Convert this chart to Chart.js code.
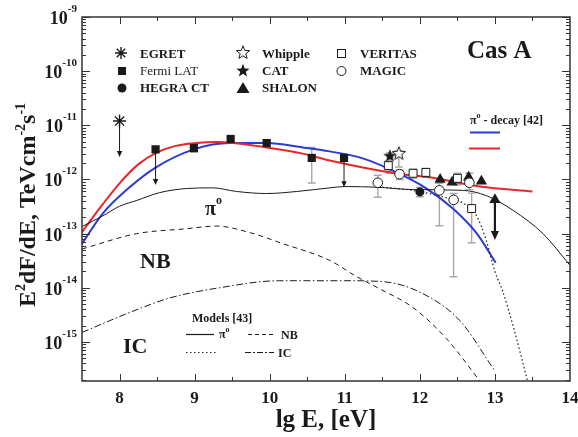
<!DOCTYPE html>
<html><head><meta charset="utf-8">
<script src="https://cdn.jsdelivr.net/npm/chart.js@4/dist/chart.umd.min.js"></script>
<style>html,body{margin:0;padding:0;background:#fff}canvas{display:block}</style>
</head><body>
<canvas id="c" width="578" height="437" style="width:578px;height:437px"></canvas>
<script>
// ---------- data (lg E [eV], E^2 dF/dE [TeV cm^-2 s^-1]) ----------
const xTicks = [8, 9, 10, 11, 12, 13, 14];
const yDecades = [-9, -10, -11, -12, -13, -14, -15];

const egretE = [8.0], egretF = [1.2e-11], egretUL = [2.6e-12];
const fermiE = [8.48, 8.99, 9.48, 9.96, 10.56, 10.99];
const fermiF = [3.6e-12, 3.8e-12, 5.6e-12, 4.7e-12, 2.5e-12, 2.5e-12];
const fermiLo = [null, 3.2e-12, null, 4.1e-12, 8.6e-13, null];
const fermiHi = [null, 4.4e-12, null, 5.4e-12, 3.9e-12, null];
const fermiUL = [7.9e-13, null, null, null, null, 7.2e-13];
const hegraE = [12.0], hegraF = [5.9e-13], hegraLo = [4.8e-13], hegraHi = [7.2e-13];
const whippleE = [11.72], whippleF = [3.1e-12], whippleLo = [1.7e-12], whippleHi = [3.4e-12];
const catE = [11.6], catF = [2.8e-12], catLo = [1.3e-12], catHi = [3.1e-12];
const shalonE = [12.27, 12.43, 12.65, 12.82, 13.0];
const shalonF = [1.0e-12, 8.9e-13, 1.1e-12, 9.3e-13, 4.2e-13];
const shalonUL = [null, null, null, null, 7.6e-14];
const veritasE = [11.58, 11.91, 12.08, 12.5, 12.69];
const veritasF = [1.8e-12, 1.3e-12, 1.35e-12, 1.05e-12, 2.9e-13];
const veritasLo = [1.4e-12, 1.05e-12, 1.1e-12, 8.0e-13, 6.8e-14];
const veritasHi = [2.2e-12, 1.55e-12, 1.6e-12, 1.3e-12, 5.6e-13];
const magicE = [11.44, 11.73, 12.26, 12.45, 12.66];
const magicF = [8.7e-13, 1.25e-12, 6.3e-13, 4.2e-13, 8.7e-13];
const magicLo = [4.7e-13, 1.0e-12, 1.4e-13, 1.6e-14, 6.5e-13];
const magicHi = [1.2e-12, 1.5e-12, 8.5e-13, 5.5e-13, 1.3e-12];

// model curves
const blueE = [7.5, 7.77, 8.13, 8.48, 8.99, 9.47, 9.96, 10.44, 10.8, 11.24, 11.69, 12.09, 12.44, 12.76, 13.01];
const blueF = [6.5e-14, 2.3e-13, 7.1e-13, 1.66e-12, 3.6e-12, 4.7e-12, 4.7e-12, 3.9e-12, 3.3e-12, 2.45e-12, 1.35e-12, 6.8e-13, 2.9e-13, 1.0e-13, 2.9e-14];
const redE = [7.5, 7.77, 8.0, 8.25, 8.5, 8.75, 9.0, 9.3, 9.96, 10.44, 10.8, 11.69, 12.13, 12.8, 13.5];
const redF = [1.07e-13, 3.39e-13, 8.5e-13, 1.9e-12, 3.16e-12, 4.17e-12, 4.68e-12, 4.9e-12, 3.9e-12, 3.0e-12, 2.24e-12, 1.29e-12, 1.1e-12, 7.4e-13, 6.0e-13];
const pi0E = [7.5, 7.77, 8.0, 8.23, 8.53, 8.89, 9.24, 9.56, 9.96, 10.36, 10.8, 11.0, 11.42, 11.91, 12.57, 12.89, 13.24, 13.64, 14.0];
const pi0F = [1.35e-13, 2.1e-13, 3.2e-13, 4.1e-13, 5.7e-13, 6.8e-13, 7.0e-13, 6.0e-13, 5.5e-13, 6.0e-13, 7.0e-13, 7.4e-13, 7.2e-13, 6.5e-13, 6.3e-13, 5.0e-13, 2.7e-13, 1.0e-13, 2.6e-14];
const dotE = [11.5, 11.9, 12.3, 12.6, 12.75, 12.88, 13.0, 13.1, 13.25, 13.43];
const dotF = [7.2e-13, 6.3e-13, 4.8e-13, 3.5e-13, 2.2e-13, 7.9e-14, 2.0e-14, 8.9e-15, 1.8e-15, 2.0e-16];
const nbE = [7.5, 8.23, 8.89, 9.29, 9.73, 10.18, 10.8, 11.16, 11.47, 11.91, 12.35, 12.8];
const nbF = [5.2e-14, 1.0e-13, 1.23e-13, 1.38e-13, 1.05e-13, 6.5e-14, 3.2e-14, 1.6e-14, 9.5e-15, 4.3e-15, 1.17e-15, 1.9e-16];
const icE = [7.5, 8.18, 8.67, 9.33, 10.13, 11.0, 11.5, 12.0, 12.53, 13.0];
const icF = [1.5e-15, 3.7e-15, 6.5e-15, 1.0e-14, 1.35e-14, 1.35e-14, 1.3e-14, 8.3e-15, 2.5e-15, 2.9e-16];

// ---------- helpers ----------
const SERIF = '"Liberation Serif", "Times New Roman", serif';
const INK = '#1a1a1a';
const pts = (E, F) => E.map((e, i) => ({ x: e, y: F[i] }));

function starPath(g, cx, cy, R) {
  g.beginPath();
  for (let i = 0; i < 10; i++) {
    const r = i % 2 ? R * 0.42 : R;
    const a = -Math.PI / 2 + i * Math.PI / 5;
    g.lineTo(cx + r * Math.cos(a), cy + r * Math.sin(a));
  }
  g.closePath();
}
function makeStar(R, filled) {
  const c = document.createElement('canvas');
  const s = Math.ceil(R * 2 + 4);
  c.width = c.height = s;
  const g = c.getContext('2d');
  starPath(g, s / 2, s / 2 + 0.8, R);
  if (filled) { g.fillStyle = INK; g.fill(); }
  else { g.fillStyle = '#fff'; g.fill(); g.lineWidth = 1; g.strokeStyle = INK; g.stroke(); }
  return c;
}
const starFilled = makeStar(7, true);
const starOpen = makeStar(7, false);

function runs(ctx, parts, x, y, align) {
  const w = parts.map(p => { ctx.font = `${p[3] || 'bold'} ${p[1]}px ${SERIF}`; return ctx.measureText(p[0]).width; });
  const total = w.reduce((a, b) => a + b, 0);
  let cx = align === 'right' ? x - total : align === 'center' ? x - total / 2 : x;
  ctx.textAlign = 'left'; ctx.textBaseline = 'alphabetic';
  parts.forEach((p, i) => { ctx.font = `${p[3] || 'bold'} ${p[1]}px ${SERIF}`; ctx.fillText(p[0], cx, y - (p[2] || 0)); cx += w[i]; });
}

const errSets = [
  [fermiE, fermiF, fermiLo, fermiHi], [hegraE, hegraF, hegraLo, hegraHi],
  [whippleE, whippleF, whippleLo, whippleHi], [catE, catF, catLo, catHi],
  [veritasE, veritasF, veritasLo, veritasHi], [magicE, magicF, magicLo, magicHi]
];
const ulSets = [[egretE, egretF, egretUL, 1, 6], [fermiE, fermiF, fermiUL, 1, 6], [shalonE, shalonF, shalonUL, 2.2, 9]];

const deco = {
  id: 'deco',
  beforeDatasetsDraw(chart) {
    const { ctx, scales: { x, y } } = chart;
    ctx.save();
    ctx.strokeStyle = '#a8a8a8'; ctx.lineWidth = 1.4;
    errSets.forEach(([E, F, lo, hi]) => {
      E.forEach((e, i) => {
        if (lo[i] == null) return;
        const px = x.getPixelForValue(e), y1 = y.getPixelForValue(lo[i]), y2 = y.getPixelForValue(hi[i]);
        ctx.beginPath();
        ctx.moveTo(px, y1); ctx.lineTo(px, y2);
        ctx.moveTo(px - 4, y1); ctx.lineTo(px + 4, y1);
        ctx.moveTo(px - 4, y2); ctx.lineTo(px + 4, y2);
        ctx.stroke();
      });
    });
    ctx.restore();
  },
  afterDatasetsDraw(chart) {
    const { ctx, scales: { x, y } } = chart;
    ctx.save();
    ctx.strokeStyle = INK; ctx.fillStyle = INK;
    ulSets.forEach(([E, F, UL, lw, head]) => {
      E.forEach((e, i) => {
        if (UL[i] == null) return;
        const px = x.getPixelForValue(e), y1 = y.getPixelForValue(F[i]), y2 = y.getPixelForValue(UL[i]);
        ctx.lineWidth = lw;
        ctx.beginPath(); ctx.moveTo(px, y1); ctx.lineTo(px, y2 - head * 0.6); ctx.stroke();
        ctx.beginPath();
        ctx.moveTo(px - head * 0.45, y2 - head); ctx.lineTo(px + head * 0.45, y2 - head); ctx.lineTo(px, y2);
        ctx.closePath(); ctx.fill();
      });
    });
    ctx.restore();
  },
  afterDraw(chart) {
    const { ctx, chartArea: { left, right, top, bottom }, scales: { x, y } } = chart;
    ctx.save();
    // frame
    ctx.strokeStyle = '#333'; ctx.lineWidth = 1.5;
    ctx.strokeRect(left, top, right - left, bottom - top);
    ctx.lineWidth = 1;
    ctx.beginPath();
    // x ticks
    for (let v = 7.5; v <= 14.001; v += 0.5) {
      const px = Math.round(x.getPixelForValue(v)) + 0.5;
      const len = Number.isInteger(v) ? 7 : 4;
      if (v <= 7.5 || v >= 14) continue;
      ctx.moveTo(px, bottom); ctx.lineTo(px, bottom - len);
      ctx.moveTo(px, top); ctx.lineTo(px, top + len);
    }
    // y ticks
    for (let d = -16; d <= -9; d++) {
      for (let m = 1; m <= 9; m++) {
        const v = m * Math.pow(10, d);
        if (v < y.min * 0.999 || v > y.max * 1.001) continue;
        const py = Math.round(y.getPixelForValue(v)) + 0.5;
        const len = m === 1 ? 8 : 4;
        ctx.moveTo(left, py); ctx.lineTo(left + len, py);
        ctx.moveTo(right, py); ctx.lineTo(right - len, py);
      }
    }
    ctx.stroke();

    ctx.fillStyle = INK;
    // x tick labels
    ctx.font = `bold 17px ${SERIF}`; ctx.textAlign = 'center'; ctx.textBaseline = 'alphabetic';
    xTicks.forEach(t => ctx.fillText(String(t), x.getPixelForValue(t), 403));
    // y tick labels
    yDecades.forEach(d => {
      const py = y.getPixelForValue(Math.pow(10, d));
      runs(ctx, [['10', 18, 0], [String(d), 11, 12]], 77, py + 7, 'right');
    });
    // axis titles
    runs(ctx, [['lg E, [eV]', 25, 0]], 326, 427, 'center');
    ctx.save();
    ctx.translate(35, 205); ctx.rotate(-Math.PI / 2);
    runs(ctx, [['E', 24, 0], ['2', 14, 10], ['dF/dE, TeVcm', 24, 0], ['-2', 14, 10], ['s', 24, 0], ['-1', 14, 10]], 0, 0, 'center');
    ctx.restore();

    // annotations
    runs(ctx, [['Cas A', 25, 0]], 467, 58, 'left');
    runs(ctx, [['π', 20, 0], ['o', 12, 11]], 205, 215, 'left');
    runs(ctx, [['NB', 22, 0]], 140, 268, 'left');
    runs(ctx, [['IC', 22, 0]], 123, 353, 'left');

    // pi0-decay [42] legend
    runs(ctx, [['π', 12, 0], ['o', 8, 6], [' - decay [42]', 12, 0]], 470, 124, 'left');
    ctx.lineWidth = 2;
    ctx.strokeStyle = '#2b3bd1'; ctx.beginPath(); ctx.moveTo(470, 132.5); ctx.lineTo(500, 132.5); ctx.stroke();
    ctx.strokeStyle = '#e8262a'; ctx.beginPath(); ctx.moveTo(469, 148.5); ctx.lineTo(500, 148.5); ctx.stroke();

    // Models [43] legend
    runs(ctx, [['Models [43]', 12, 0]], 192, 322, 'left');
    ctx.strokeStyle = INK; ctx.lineWidth = 1.2;
    const seg = (x1, x2, yy, dash) => { ctx.setLineDash(dash); ctx.beginPath(); ctx.moveTo(x1, yy); ctx.lineTo(x2, yy); ctx.stroke(); };
    seg(186, 214, 334.5, []);
    seg(248, 274, 334.5, [4, 3]);
    seg(186, 216, 352.5, [1.5, 2.5]);
    seg(245, 274, 352.5, [6, 2, 2, 2]);
    ctx.setLineDash([]);
    runs(ctx, [['π', 12, 0], ['o', 8, 6]], 219, 338, 'left');
    runs(ctx, [['NB', 12, 0]], 281, 339, 'left');
    runs(ctx, [['IC', 12, 0]], 278, 357, 'left');

    // instrument legend
    ctx.strokeStyle = INK; ctx.fillStyle = INK; ctx.lineWidth = 1.4;
    ctx.beginPath();
    for (let k = 0; k < 4; k++) { const a = k * Math.PI / 4; ctx.moveTo(121 - 6 * Math.cos(a), 53 - 6 * Math.sin(a)); ctx.lineTo(121 + 6 * Math.cos(a), 53 + 6 * Math.sin(a)); }
    ctx.stroke();
    ctx.fillRect(118, 67, 8, 8);
    ctx.beginPath(); ctx.arc(122, 88, 4.5, 0, 2 * Math.PI); ctx.fill();
    ctx.drawImage(starOpen, 243 - starOpen.width / 2, 52 - starOpen.height / 2);
    ctx.drawImage(starFilled, 243 - starFilled.width / 2, 70 - starFilled.height / 2);
    ctx.beginPath(); ctx.moveTo(243, 82); ctx.lineTo(249.5, 93); ctx.lineTo(236.5, 93); ctx.closePath(); ctx.fill();
    ctx.lineWidth = 1;
    ctx.strokeRect(337.5, 49.5, 8, 8);
    ctx.beginPath(); ctx.arc(341.5, 71, 4.5, 0, 2 * Math.PI); ctx.stroke();
    runs(ctx, [['EGRET', 13, 0]], 140, 58, 'left');
    runs(ctx, [['Fermi LAT', 13, 0, 'normal']], 140, 75, 'left');
    runs(ctx, [['HEGRA CT', 13, 0]], 140, 92, 'left');
    runs(ctx, [['Whipple', 13, 0]], 262, 58, 'left');
    runs(ctx, [['CAT', 13, 0]], 262, 75, 'left');
    runs(ctx, [['SHALON', 13, 0]], 262, 92, 'left');
    runs(ctx, [['VERITAS', 13, 0]], 360, 58, 'left');
    runs(ctx, [['MAGIC', 13, 0]], 360, 75, 'left');
    ctx.restore();
  }
};

const curve = (label, E, F, color, width, dash) => ({
  label, data: pts(E, F), showLine: true, pointRadius: 0, borderColor: color,
  borderWidth: width, borderDash: dash, cubicInterpolationMode: 'monotone', fill: false, order: 2
});
const marks = (label, E, F, style, r, fillColor, bw) => ({
  label, data: pts(E, F), showLine: false, pointStyle: style, pointRadius: r,
  backgroundColor: fillColor, borderColor: INK, borderWidth: bw, order: 1
});

new Chart(document.getElementById('c'), {
  type: 'scatter',
  data: {
    datasets: [
      curve('IC', icE, icF, INK, 1, [7, 2.5, 1.5, 2.5]),
      curve('NB', nbE, nbF, INK, 1, [5, 4]),
      curve('π0 (dotted)', dotE, dotF, INK, 1.2, [1.5, 2.5]),
      curve('π0', pi0E, pi0F, INK, 1, []),
      curve('π0-decay [42] red', redE, redF, '#e8262a', 2, []),
      curve('π0-decay [42] blue', blueE, blueF, '#2b3bd1', 2, []),
      marks('VERITAS', veritasE, veritasF, 'rect', 5.6, '#fff', 1),
      marks('MAGIC', magicE, magicF, 'circle', 4.8, '#fff', 1),
      marks('HEGRA CT', hegraE, hegraF, 'circle', 4.5, INK, 0),
      marks('SHALON', shalonE, shalonF, 'triangle', 6.5, INK, 0),
      marks('Whipple', whippleE, whippleF, starOpen, 7, '#fff', 1),
      marks('CAT', catE, catF, starFilled, 7, INK, 0),
      marks('Fermi LAT', fermiE, fermiF, 'rect', 5.8, INK, 0),
      marks('EGRET', egretE, egretF, 'star', 6.5, INK, 1.4)
    ]
  },
  options: {
    responsive: false, animation: false, devicePixelRatio: 1,
    layout: { padding: { left: 82, right: 8, top: 17, bottom: 56 } },
    plugins: { legend: { display: false }, tooltip: { enabled: false }, title: { display: false } },
    scales: {
      x: { type: 'linear', min: 7.5, max: 14, display: false },
      y: { type: 'logarithmic', min: 1.9e-16, max: 1e-9, display: false }
    }
  },
  plugins: [deco]
});
</script>
</body></html>
